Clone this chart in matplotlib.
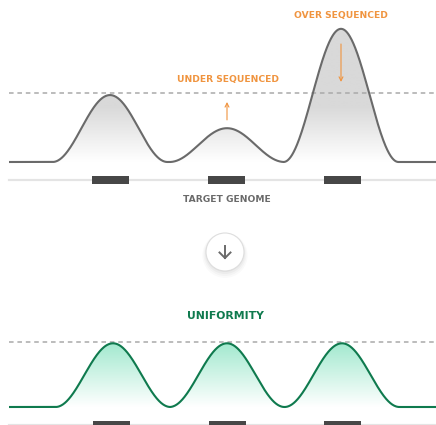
import matplotlib.pyplot as plt
import numpy as np
from matplotlib.colors import LinearSegmentedColormap
from matplotlib.patches import Circle

# genome positions (x) and relative coverage (1.0 = target depth, dashed line)
top_centers = [110, 227, 341]
top_heights = [0.97, 0.49, 1.93]
bot_centers = [113, 227, 342]
bot_heights = [0.98, 0.98, 0.98]
top_genes = [92, 208, 324]
bot_genes = [93, 209, 324]
gene_len = 37
x_start, x_end = 9, 436
half_width = 57.5

W, H = 436, 425
fig = plt.figure(figsize=(W / 100, H / 100), dpi=100)


def curve(x, centers, heights):
    y = np.zeros_like(x)
    for c, h in zip(centers, heights):
        d = np.abs(x - c)
        y += np.where(d < half_width, h * np.cos(np.pi * d / (2 * half_width)) ** 2, 0)
    return y


def panel(px_top, px_bot, px_base, px_per_unit):
    # axes placed in pixel space, y in coverage units
    ax = fig.add_axes([0, 1 - px_bot / H, 1, (px_bot - px_top) / H])
    ax.set_xlim(0, W)
    ax.set_ylim(-(px_bot - px_base) / px_per_unit, (px_base - px_top) / px_per_unit)
    ax.axis('off')
    return ax


def draw(ax, centers, heights, genes, line_col, fill_col, fade, unit):
    x = np.linspace(x_start, x_end, 1200)
    y = curve(x, centers, heights)
    poly = ax.fill_between(x, 0, y, color='none', lw=0)
    ymax = max(heights)
    grad = np.clip(np.linspace(ymax, 0, 300) / fade, 0, 1)[:, None]
    cmap = LinearSegmentedColormap.from_list('g', ['white', fill_col])
    im = ax.imshow(grad, extent=[x_start, x_end, 0, ymax], aspect='auto',
                   cmap=cmap, vmin=0, vmax=1, zorder=1)
    im.set_clip_path(poly.get_paths()[0], transform=ax.transData)
    ax.plot(x, y, color=line_col, lw=1.5, zorder=3, solid_capstyle='butt')
    ax.plot([x_start, x_end], [1, 1], color='#aaaaaa', lw=1.1,
            dashes=(3, 2.5), zorder=2)
    gy = -18 / unit
    ax.plot([x_start, x_end], [gy, gy], color='#e4e4e4', lw=1.6, zorder=2)
    for g in genes:
        ax.bar(g + gene_len / 2, 8.5 / unit, width=gene_len, bottom=gy - 4 / unit,
               color='#474747', zorder=3)


orange = '#f0943f'
green = '#0f7a4e'
font = dict(family='DejaVu Sans', fontweight='bold')

top_unit = 69
ax1 = panel(0, 195, 162, top_unit)
draw(ax1, top_centers, top_heights, top_genes, '#6a6a6a', '#d9d9d9', 0.8, top_unit)
ax1.text(227, -38 / top_unit, 'TARGET GENOME', color='#6a6a6a', ha='center',
         va='center', fontsize=6.6, **font)
ax1.text(228, 1.19, 'UNDER SEQUENCED', color=orange, ha='center', va='center',
         fontsize=6.6, **font)
ax1.text(341, 2.12, 'OVER SEQUENCED', color=orange, ha='center', va='center',
         fontsize=6.6, **font)
ax1.annotate('', xy=(227, 0.87), xytext=(227, 0.61),
             arrowprops=dict(arrowstyle='->', color=orange, lw=0.8,
                             mutation_scale=7, shrinkA=0, shrinkB=0))
ax1.annotate('', xy=(341, 1.16), xytext=(341, 1.71),
             arrowprops=dict(arrowstyle='->', color=orange, lw=0.8,
                             mutation_scale=7, shrinkA=0, shrinkB=0))

bot_unit = 65
ax2 = panel(330, 425, 407, bot_unit)
draw(ax2, bot_centers, bot_heights, bot_genes, green, '#a3e9cf', 0.98, bot_unit)

# overlay in pixel coordinates for the round button and the title
ov = fig.add_axes([0, 0, 1, 1])
ov.set_xlim(0, W)
ov.set_ylim(H, 0)
ov.axis('off')
for i, a in enumerate([0.03, 0.03, 0.025, 0.02]):
    ov.add_patch(Circle((225, 253 + i * 0.8), 19 + i * 1.2, color='black',
                        alpha=a, lw=0, zorder=1))
ov.add_patch(Circle((225, 252), 19, facecolor='white', edgecolor='#dedede',
                    lw=0.8, zorder=2))
ov.plot([225, 225], [246, 258], color='#6a6a6a', lw=1.4, zorder=3)
ov.plot([219.5, 225, 230.5], [252.5, 258, 252.5], color='#6a6a6a', lw=1.4,
        zorder=3, solid_joinstyle='miter')
ov.text(225, 316, 'UNIFORMITY', color=green, ha='center', va='center',
        fontsize=7.8, **font)

fig.savefig('out.png', dpi=100)
